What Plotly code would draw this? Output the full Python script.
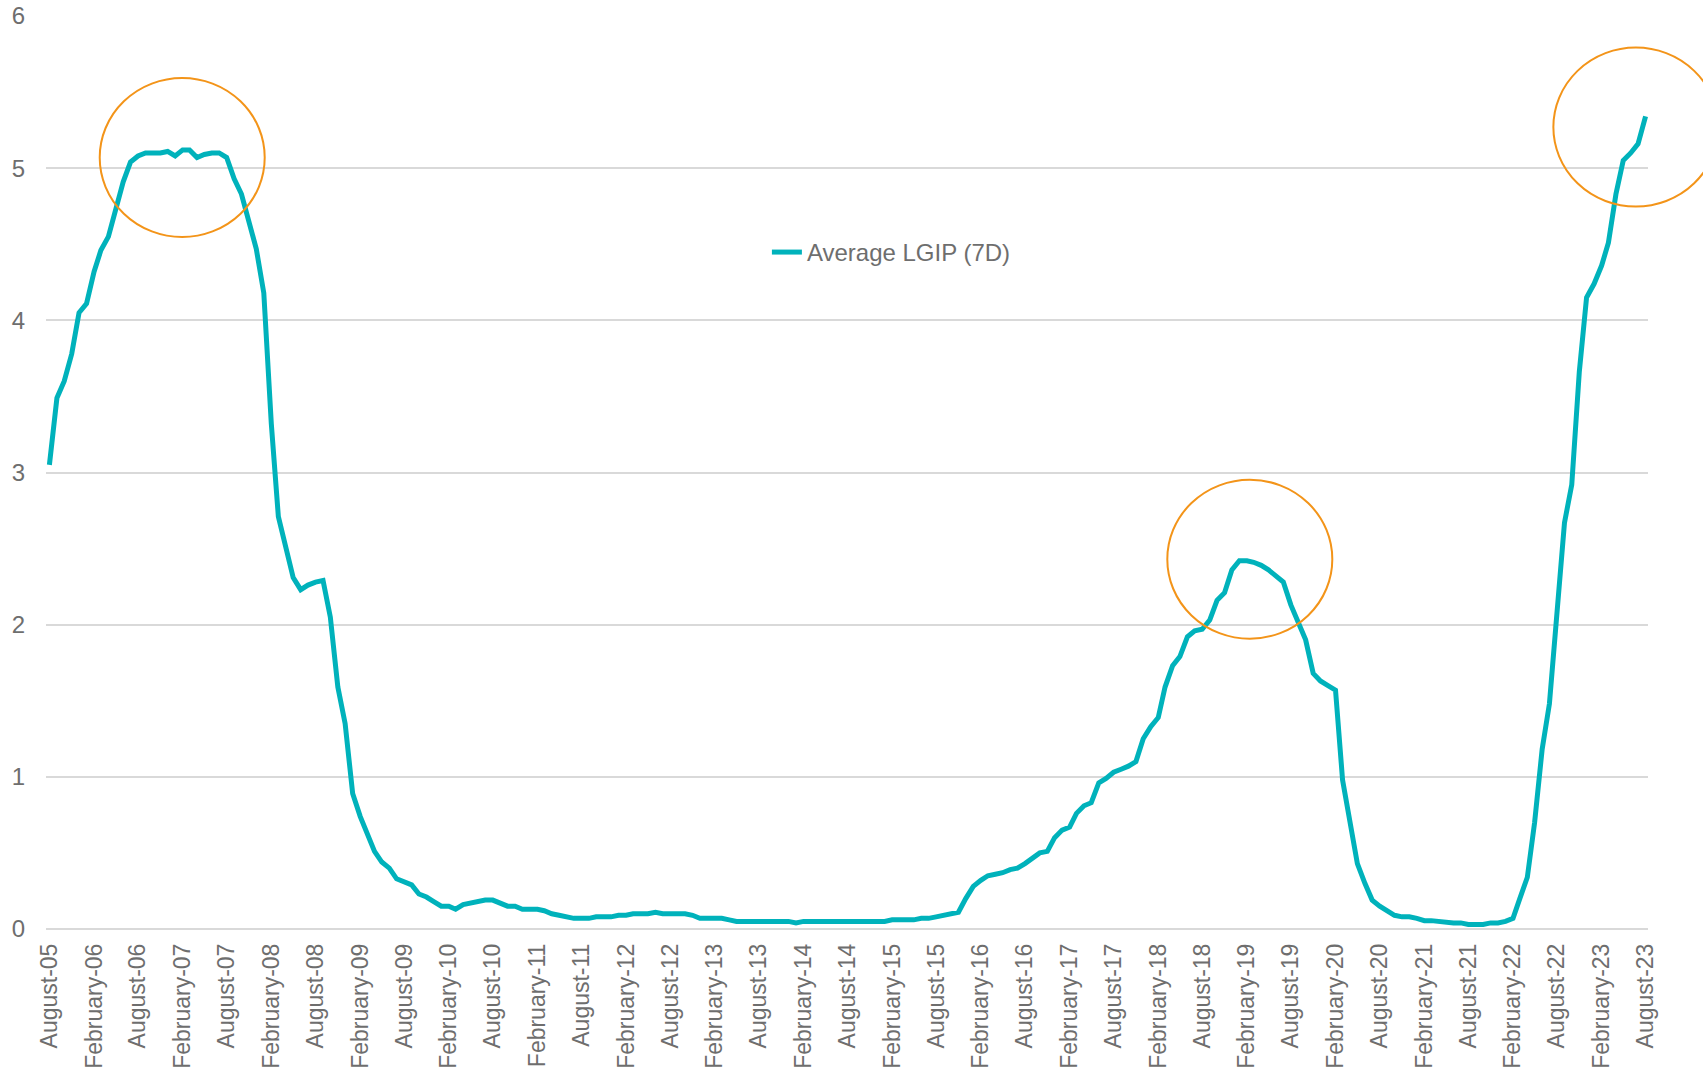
import pandas as pd
import plotly.graph_objects as go

# Monthly average 7-day LGIP yield (%), August 2005 through August 2023
months = pd.date_range("2005-08-01", "2023-08-01", freq="MS")
lgip_7d = [
    # Aug-05 .. Jul-06
    3.05, 3.49, 3.60, 3.78, 4.05, 4.11, 4.32, 4.46, 4.55, 4.74, 4.91, 5.04,
    # Aug-06 .. Jul-07
    5.08, 5.10, 5.10, 5.10, 5.11, 5.08, 5.12, 5.12, 5.07, 5.09, 5.10, 5.10,
    # Aug-07 .. Jul-08
    5.07, 4.93, 4.83, 4.65, 4.47, 4.18, 3.32, 2.71, 2.49, 2.31, 2.23, 2.26,
    # Aug-08 .. Jul-09
    2.28, 2.29, 2.05, 1.59, 1.35, 0.89, 0.74, 0.62, 0.51, 0.44, 0.40, 0.33,
    # Aug-09 .. Jul-10
    0.31, 0.29, 0.23, 0.21, 0.18, 0.15, 0.15, 0.13, 0.16, 0.17, 0.18, 0.19,
    # Aug-10 .. Jul-11
    0.19, 0.17, 0.15, 0.15, 0.13, 0.13, 0.13, 0.12, 0.10, 0.09, 0.08, 0.07,
    # Aug-11 .. Jul-12
    0.07, 0.07, 0.08, 0.08, 0.08, 0.09, 0.09, 0.10, 0.10, 0.10, 0.11, 0.10,
    # Aug-12 .. Jul-13
    0.10, 0.10, 0.10, 0.09, 0.07, 0.07, 0.07, 0.07, 0.06, 0.05, 0.05, 0.05,
    # Aug-13 .. Jul-14
    0.05, 0.05, 0.05, 0.05, 0.05, 0.04, 0.05, 0.05, 0.05, 0.05, 0.05, 0.05,
    # Aug-14 .. Jul-15
    0.05, 0.05, 0.05, 0.05, 0.05, 0.05, 0.06, 0.06, 0.06, 0.06, 0.07, 0.07,
    # Aug-15 .. Jul-16
    0.08, 0.09, 0.10, 0.11, 0.20, 0.28, 0.32, 0.35, 0.36, 0.37, 0.39, 0.40,
    # Aug-16 .. Jul-17
    0.43, 0.47, 0.50, 0.51, 0.60, 0.65, 0.67, 0.76, 0.81, 0.83, 0.96, 0.99,
    # Aug-17 .. Jul-18
    1.03, 1.05, 1.07, 1.10, 1.25, 1.33, 1.39, 1.59, 1.73, 1.79, 1.92, 1.96,
    # Aug-18 .. Jul-19
    1.97, 2.03, 2.16, 2.21, 2.36, 2.42, 2.42, 2.41, 2.39, 2.36, 2.32, 2.28,
    # Aug-19 .. Jul-20
    2.13, 2.02, 1.90, 1.68, 1.63, 1.60, 1.57, 0.98, 0.69, 0.43, 0.30, 0.19,
    # Aug-20 .. Jul-21
    0.15, 0.12, 0.09, 0.08, 0.08, 0.07, 0.055, 0.055, 0.05, 0.04, 0.04, 0.04,
    # Aug-21 .. Jul-22
    0.03, 0.03, 0.03, 0.04, 0.04, 0.05, 0.07, 0.20, 0.34, 0.70, 1.18, 1.48,
    # Aug-22 .. Jul-23
    2.09, 2.67, 2.92, 3.66, 4.15, 4.24, 4.36, 4.51, 4.83, 5.05, 5.10, 5.16,
    # Aug-23
    5.34,
]
series_name = "Average LGIP (7D)"

# Axis labels every six months
tick_dates = pd.date_range("2005-08-01", "2023-08-01", freq="6MS")
tick_labels = [d.strftime("%B-%y") for d in tick_dates]
y_ticks = [0, 1, 2, 3, 4, 5, 6]

# Highlighted rate peaks (centre date, centre level)
highlight_dates = ["2007-01-30", "2019-02-13", "2023-06-22"]
highlight_levels = [5.07, 2.43, 5.27]

TEAL = "#00B2BB"
ORANGE = "#F39419"
TEXT = "#6E6E6E"
GRID = "#D9D9D9"
FONT = "Liberation Sans, Arial, sans-serif"

x_start = pd.Timestamp("2005-07-18")
x_end = pd.Timestamp("2023-08-11")
y_max = 6


def paper_x(date):
    return (pd.Timestamp(date) - x_start) / (x_end - x_start)


fig = go.Figure()
fig.add_trace(go.Scatter(
    x=months, y=lgip_7d, mode="lines", name=series_name,
    line=dict(color=TEAL, width=5),
))

shapes = []
for d, v in zip(highlight_dates, highlight_levels):
    shapes.append(dict(
        type="circle", xref="paper", yref="paper",
        xsizemode="pixel", ysizemode="pixel",
        xanchor=paper_x(d), yanchor=v / y_max,
        x0=-82.5, x1=82.5, y0=-79.5, y1=79.5,
        line=dict(color=ORANGE, width=2),
        fillcolor="rgba(0,0,0,0)", layer="above",
    ))

fig.update_layout(
    width=1703, height=1076,
    margin=dict(l=46, r=55, t=16, b=147, pad=0),
    paper_bgcolor="white", plot_bgcolor="white",
    font=dict(family=FONT, size=24, color=TEXT),
    showlegend=True,
    legend=dict(
        x=0.450, y=0.741, xanchor="left", yanchor="middle",
        orientation="h", bgcolor="rgba(0,0,0,0)",
        font=dict(family=FONT, size=24, color=TEXT),
    ),
    shapes=shapes,
    xaxis=dict(
        type="date", range=[x_start, x_end], automargin=False,
        tickvals=list(tick_dates), ticktext=tick_labels,
        tickangle=-90, ticks="", showgrid=False, showline=False,
        zeroline=False, ticklabelstandoff=9,
        tickfont=dict(family=FONT, size=23, color=TEXT),
    ),
    yaxis=dict(
        range=[0, y_max], tickvals=y_ticks, ticks="", automargin=False,
        showgrid=True, gridcolor=GRID, gridwidth=1.5,
        zeroline=True, zerolinecolor=GRID, zerolinewidth=1.5,
        showline=False, ticklabelstandoff=20,
        tickfont=dict(family=FONT, size=24, color=TEXT),
    ),
)

fig.write_html("out.html")
